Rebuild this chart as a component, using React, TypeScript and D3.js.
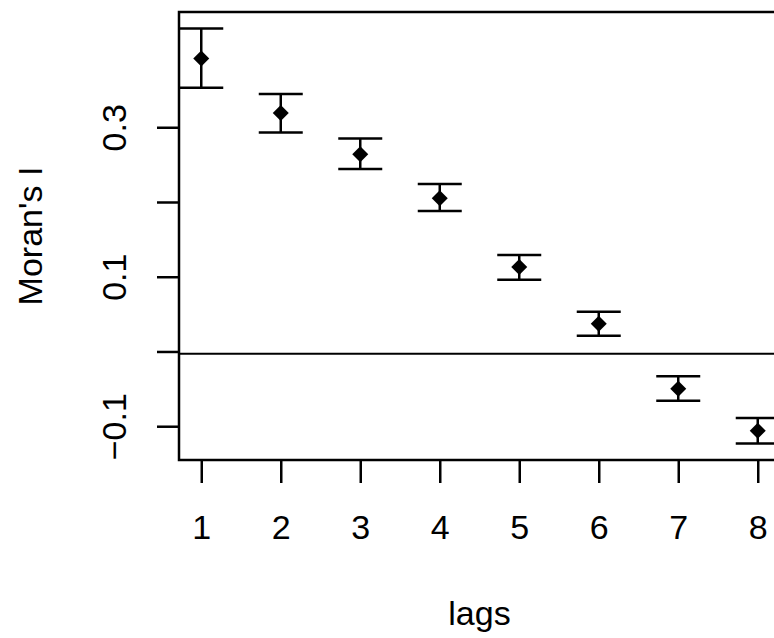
import { select, scaleLinear, axisBottom, axisLeft } from "d3";
import React, { useEffect, useRef } from "react";

const lags = [1, 2, 3, 4, 5, 6, 7, 8];
const moranI = [0.392, 0.319, 0.264, 0.205, 0.113, 0.037, -0.05, -0.106];
const lower = [0.353, 0.293, 0.244, 0.188, 0.096, 0.021, -0.066, -0.123];
const upper = [0.432, 0.3445, 0.285, 0.224, 0.129, 0.053, -0.033, -0.089];
const yTicks = [-0.1, 0, 0.1, 0.2, 0.3];
const yTickLabels = ["\u22120.1", "", "0.1", "", "0.3"];
const expectedI = -0.003;

const App = () => {
  const svgRef = useRef(null);

  useEffect(() => {
    document.body.style.margin = "0";
    const svg = select(svgRef.current);
    svg.selectAll("*").remove();

    const font = "'Liberation Sans', Arial, Helvetica, sans-serif";
    const fontSize = "34px";
    const left = 179;
    const top = 12;
    const bottom = 460;
    const right = 780;

    const x = scaleLinear().domain([0.72, 8.28]).range([left, right]);
    const y = scaleLinear().domain([-0.1452, 0.4542]).range([bottom, top]);

    // x axis
    const xAxis = axisBottom(x).tickValues(lags).tickSize(23).tickPadding(0);
    const gx = svg.append("g").attr("transform", `translate(0,${bottom})`).call(xAxis);
    gx.select(".domain").remove();
    gx.selectAll(".tick line").attr("stroke", "#000").attr("stroke-width", 2.5);
    gx.selectAll(".tick text")
      .attr("y", 79)
      .attr("dy", null)
      .attr("fill", "#000")
      .style("font-family", font)
      .style("font-size", fontSize);

    // y axis
    const yAxis = axisLeft(y)
      .tickValues(yTicks)
      .tickSize(22)
      .tickFormat((d, i) => yTickLabels[i]);
    const gy = svg.append("g").attr("transform", `translate(${left},0)`).call(yAxis);
    gy.select(".domain").remove();
    gy.selectAll(".tick line").attr("stroke", "#000").attr("stroke-width", 2.5);
    gy.selectAll(".tick text")
      .attr("x", null)
      .attr("dy", null)
      .attr("transform", "translate(-53,0) rotate(-90)")
      .attr("text-anchor", "middle")
      .attr("fill", "#000")
      .style("font-family", font)
      .style("font-size", fontSize);

    // box
    svg
      .append("rect")
      .attr("x", left)
      .attr("y", top)
      .attr("width", right - left)
      .attr("height", bottom - top)
      .attr("fill", "none")
      .attr("stroke", "#000")
      .attr("stroke-width", 2.5);

    // expected value line
    svg
      .append("line")
      .attr("x1", left)
      .attr("x2", 774)
      .attr("y1", y(expectedI))
      .attr("y2", y(expectedI))
      .attr("stroke", "#000")
      .attr("stroke-width", 2);

    const cap = 22;
    const bars = svg.append("g").attr("stroke", "#000").attr("stroke-width", 2.5);
    lags.forEach((lag, i) => {
      bars.append("line")
        .attr("x1", x(lag)).attr("x2", x(lag))
        .attr("y1", y(lower[i])).attr("y2", y(upper[i]));
      bars.append("line")
        .attr("x1", x(lag) - cap).attr("x2", x(lag) + cap)
        .attr("y1", y(lower[i])).attr("y2", y(lower[i]));
      bars.append("line")
        .attr("x1", x(lag) - cap).attr("x2", x(lag) + cap)
        .attr("y1", y(upper[i])).attr("y2", y(upper[i]));
    });

    const d = 8;
    svg
      .selectAll(".pt")
      .data(moranI)
      .join("path")
      .attr("class", "pt")
      .attr("d", (v, i) => {
        const cx = x(lags[i]);
        const cy = y(v);
        return `M${cx},${cy - d}L${cx + d},${cy}L${cx},${cy + d}L${cx - d},${cy}Z`;
      })
      .attr("fill", "#000");

    // titles
    svg
      .append("text")
      .attr("x", x(4.5))
      .attr("y", 625)
      .attr("text-anchor", "middle")
      .style("font-family", font)
      .style("font-size", fontSize)
      .text("lags");

    svg
      .append("text")
      .attr("transform", `translate(42,${y(0.1545)}) rotate(-90)`)
      .attr("text-anchor", "middle")
      .style("font-family", font)
      .style("font-size", fontSize)
      .text("Moran's I");
  }, []);

  return <svg ref={svgRef} width={774} height={638} style={{ display: "block", background: "#fff" }} />;
};

export default App;
